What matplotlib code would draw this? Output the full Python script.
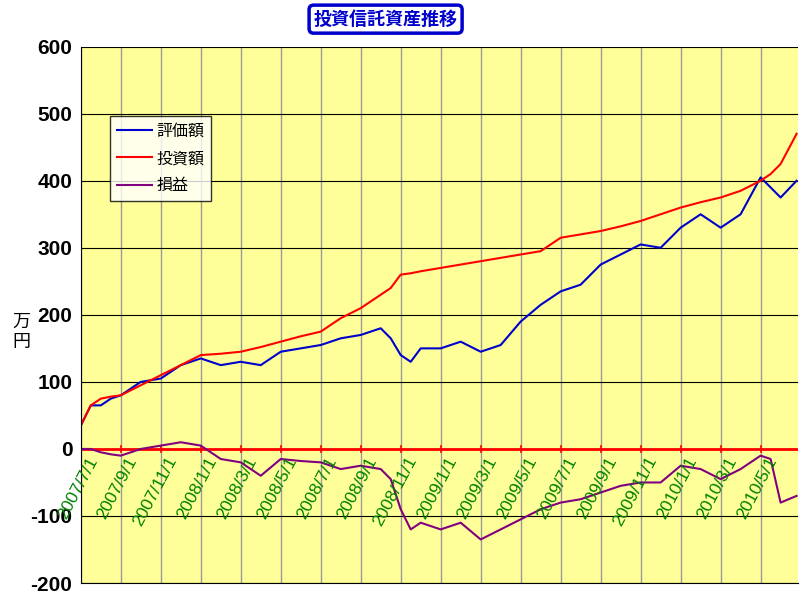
import matplotlib
matplotlib.use("Agg")
import matplotlib.pyplot as plt

plt.rcParams['font.family'] = ['Noto Sans CJK JP', 'DejaVu Sans']
plt.rcParams['axes.unicode_minus'] = False

# months since 2007/7/1
months = [0, 0.5, 1, 1.5, 2, 3, 4, 5, 6, 7, 8, 9, 10, 11, 12, 13, 14, 15, 15.5, 16, 16.5, 17, 18, 19, 20,
          21, 22, 23, 24, 25, 26, 27, 28, 29, 30, 31, 32, 33, 34, 34.5, 35, 35.8]
valuation = [35, 65, 65, 75, 80, 100, 105, 125, 135, 125, 130, 125, 145, 150, 155, 165, 170, 180, 165, 140, 130,
             150, 150, 160, 145, 155, 190, 215, 235, 245, 275, 290, 305, 300, 330, 350, 330, 350, 405, 390, 375, 400]
investment = [35, 65, 75, 78, 80, 95, 110, 125, 140, 142, 145, 152, 160, 168, 175, 195, 210, 230, 240, 260, 262,
              265, 270, 275, 280, 285, 290, 295, 315, 320, 325, 332, 340, 350, 360, 368, 375, 385, 400, 410, 425, 470]
profit = [0, 0, -5, -8, -10, 0, 5, 10, 5, -15, -20, -40, -15, -18, -20, -30, -25, -30, -45, -90, -120,
          -110, -120, -110, -135, -120, -105, -90, -80, -75, -65, -55, -50, -50, -25, -30, -45, -30, -10, -15, -80, -70]
tick_pos = list(range(0, 36, 2))
tick_labels = ["2007/7/1", "2007/9/1", "2007/11/1", "2008/1/1", "2008/3/1", "2008/5/1", "2008/7/1", "2008/9/1",
               "2008/11/1", "2009/1/1", "2009/3/1", "2009/5/1", "2009/7/1", "2009/9/1", "2009/11/1",
               "2010/1/1", "2010/3/1", "2010/5/1"]

fig = plt.figure(figsize=(8.0, 5.98), dpi=100)
ax = fig.add_axes([0.101, 0.025, 0.896, 0.897])
ax.set_facecolor('#FFFF99')
ax.set_xlim(0, 35.85)
ax.set_ylim(-200, 600)
ax.set_yticks(range(-200, 601, 100))
ax.tick_params(axis='y', labelsize=15, length=0, pad=6)
for l in ax.get_yticklabels():
    l.set_fontweight('bold'); l.set_family('Liberation Sans')
ax.set_xticks(tick_pos)
ax.set_xticklabels([])
ax.tick_params(axis='x', length=0)
ax.grid(axis='x', color='#999999', lw=1)
ax.grid(axis='y', color='black', lw=0.8)
ax.set_axisbelow(True)
for s in ['top', 'right']:
    ax.spines[s].set_visible(False)

ax.axhline(0, color='#FF0000', lw=2, zorder=2)
for p in tick_pos:
    ax.plot([p, p], [-4, 4], color='#FF0000', lw=1.2, zorder=2)

l1, = ax.plot(months, valuation, color='#0000CC', lw=1.5, label='評価額')
l2, = ax.plot(months, investment, color='#FF0000', lw=1.5, label='投資額')
l3, = ax.plot(months, profit, color='#800080', lw=1.5, label='損益')

for p, t in zip(tick_pos, tick_labels):
    ax.text(p + 0.3, -8, t, rotation=62, ha='right', va='top', color='#008000', fontsize=12.5,
            family='Liberation Sans', rotation_mode='anchor')

leg = ax.legend(handles=[l1, l2, l3], loc='upper left', bbox_to_anchor=(0.03, 0.885), fontsize=11.5,
                frameon=True, fancybox=False, edgecolor='black', handlelength=2.2, handletextpad=0.3,
                borderpad=0.4, labelspacing=0.65)
leg.get_frame().set_facecolor('white')

fig.text(0.015, 0.445, '万\n円', fontsize=13, ha='left', va='center', linespacing=1.1)
fig.text(0.482, 0.968, '投資信託資産推移', fontsize=13, fontweight='bold', style='italic', color='#0000CC',
         ha='center', va='center',
         bbox=dict(boxstyle='round,pad=0.25', facecolor='white', edgecolor='#0000CC', lw=2.5))
fig.savefig('out.png', dpi=100)
